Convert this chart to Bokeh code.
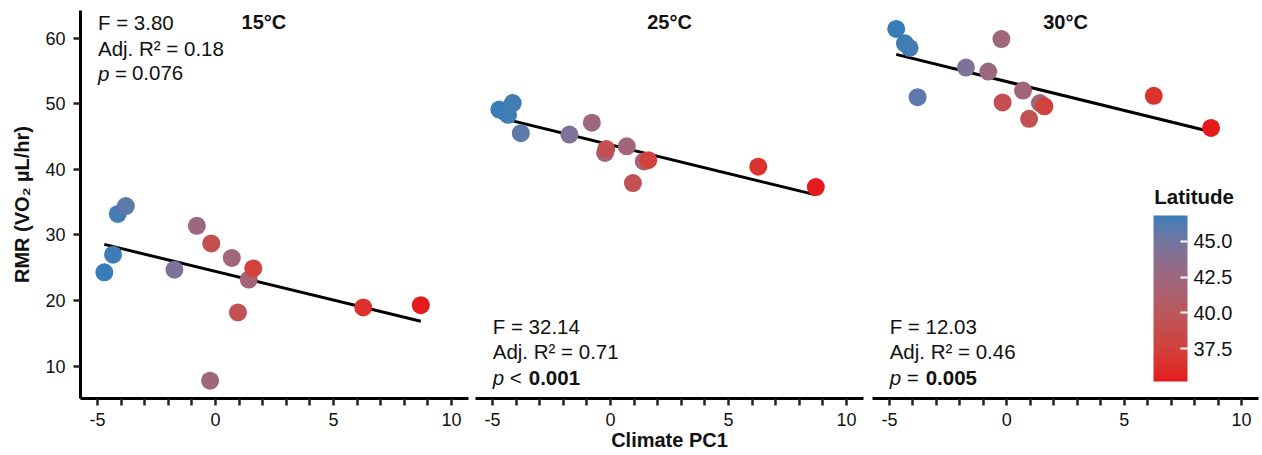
import numpy as np
from bokeh.plotting import figure
from bokeh.layouts import row
from bokeh.models import (Range1d, FixedTicker, Label, ColorBar, LinearColorMapper,
                          PrintfTickFormatter, ColumnDataSource)
from bokeh.embed import file_html
from bokeh.resources import INLINE

# ---------------- data ----------------
climate_pc1 = [-4.71, -4.34, -4.14, -3.80, -1.74, -0.79, -0.23, -0.18, 0.69, 1.41, 1.60, 0.95, 6.26, 8.70]
latitude = [46.8, 46.6, 46.5, 45.8, 44.4, 42.6, 42.4, 39.0, 42.2, 41.9, 37.6, 39.2, 36.4, 35.2]
rmr_15 = [24.3, 27.0, 33.2, 34.4, 24.7, 31.4, 7.8, 28.7, 26.5, 23.2, 24.9, 18.2, 18.95, 19.3]
rmr_25 = [49.1, 48.3, 50.1, 45.5, 45.3, 47.1, 42.5, 43.1, 43.5, 41.2, 41.4, 37.9, 40.4, 37.3]
rmr_30 = [61.4, 59.2, 58.5, 51.0, 55.5, 54.9, 59.85, 50.2, 52.0, 50.1, 49.6, 47.7, 51.2, 46.3]

panel_titles = ["15°C", "25°C", "30°C"]
stat_F = ["F = 3.80", "F = 32.14", "F = 12.03"]
stat_R2 = ["Adj. R² = 0.18", "Adj. R² = 0.71", "Adj. R² = 0.46"]
stat_p_op = ["=", "<", "="]
stat_p_val = ["0.076", "0.001", "0.005"]
stat_p_bold = [False, True, True]

x_ticks = list(range(-5, 11))
x_tick_labels = {t: (str(t) if t % 5 == 0 else "") for t in x_ticks}
y_ticks = [10, 20, 30, 40, 50, 60]
lat_ticks = [37.5, 40.0, 42.5, 45.0]
lat_low, lat_high = 35.2, 46.8
low_color, high_color = "#E41A1C", "#377EB8"

# ---------------- colour ramp (CIELAB interpolation, like ggplot) ----------------
_M = np.array([[0.4124, 0.3576, 0.1805], [0.2126, 0.7152, 0.0722], [0.0193, 0.1192, 0.9505]])
_W = np.array([0.95047, 1.0, 1.08883])


def hex_to_lab(h):
    c = np.array([int(h[i:i + 2], 16) for i in (1, 3, 5)]) / 255.0
    c = np.where(c <= 0.04045, c / 12.92, ((c + 0.055) / 1.055) ** 2.4)
    xyz = _M @ c / _W
    d = 6 / 29
    f = np.where(xyz > d ** 3, np.cbrt(xyz), xyz / (3 * d * d) + 4 / 29)
    return np.array([116 * f[1] - 16, 500 * (f[0] - f[1]), 200 * (f[1] - f[2])])


def lab_to_hex(lab):
    L, a, b = lab
    fy = (L + 16) / 116
    fx = fy + a / 500
    fz = fy - b / 200
    d = 6 / 29
    f = np.array([fx, fy, fz])
    xyz = np.where(f > d, f ** 3, 3 * d * d * (f - 4 / 29)) * _W
    rgb = np.linalg.solve(_M, xyz)
    rgb = np.where(rgb <= 0.0031308, 12.92 * rgb, 1.055 * np.clip(rgb, 0, None) ** (1 / 2.4) - 0.055)
    rgb = np.clip(np.round(rgb * 255), 0, 255).astype(int)
    return "#%02x%02x%02x" % tuple(rgb)


lab_lo, lab_hi = hex_to_lab(low_color), hex_to_lab(high_color)
palette = [lab_to_hex(lab_lo + (lab_hi - lab_lo) * t) for t in np.linspace(0, 1, 256)]
mapper = LinearColorMapper(palette=palette, low=lat_low, high=lat_high)

FONT = "Liberation Sans"
y_range = Range1d(5.08, 64.2)

widths = [471, 397, 394]
borders_left = [80, 4, 4]
borders_right = [3, 5, 4]
series = [rmr_15, rmr_25, rmr_30]
title_x = [2.05, 2.5, 2.5]

figs = []
for i in range(3):
    p = figure(width=widths[i], height=455, output_backend="svg", toolbar_location=None,
               x_range=Range1d(-5.72, 10.72), y_range=y_range,
               y_axis_location="left" if i == 0 else None,
               min_border_left=borders_left[i], min_border_right=borders_right[i],
               min_border_top=10, min_border_bottom=57)
    p.outline_line_color = None
    p.xgrid.visible = False
    p.ygrid.visible = False
    p.background_fill_color = "white"
    p.border_fill_color = "white"

    xa = p.xaxis[0]
    xa.ticker = FixedTicker(ticks=x_ticks)
    xa.major_label_overrides = x_tick_labels
    xa.minor_tick_line_color = None
    xa.axis_line_width = 3
    xa.axis_line_color = "black"
    xa.major_tick_line_width = 2.5
    xa.major_tick_line_color = "#222222"
    xa.major_tick_in = 0
    xa.major_tick_out = 7
    xa.major_label_standoff = 7
    xa.major_label_text_font = FONT
    xa.major_label_text_font_size = "18px"
    xa.major_label_text_color = "#111111"
    if i == 1:
        xa.axis_label = "Climate PC1"
        xa.axis_label_text_font = FONT
        xa.axis_label_text_font_size = "20px"
        xa.axis_label_text_font_style = "bold"
        xa.axis_label_text_color = "#111111"
        xa.axis_label_standoff = 0

    if i == 0:
        ya = p.yaxis[0]
        ya.ticker = FixedTicker(ticks=y_ticks)
        ya.minor_tick_line_color = None
        ya.axis_line_width = 3
        ya.axis_line_color = "black"
        ya.major_tick_line_width = 2.5
        ya.major_tick_line_color = "#222222"
        ya.major_tick_in = 0
        ya.major_tick_out = 7
        ya.major_label_standoff = 8
        ya.major_label_text_font = FONT
        ya.major_label_text_font_size = "18px"
        ya.major_label_text_color = "#111111"
        ya.axis_label = "RMR (VO₂ µL/hr)"
        ya.axis_label_text_font = FONT
        ya.axis_label_text_font_size = "20px"
        ya.axis_label_text_font_style = "bold"
        ya.axis_label_text_color = "#111111"
        ya.axis_label_standoff = 9

    # regression line from the data
    x = np.array(climate_pc1)
    y = np.array(series[i])
    slope, intercept = np.polyfit(x, y, 1)
    xl = np.array([x.min(), x.max()])
    p.line(xl, intercept + slope * xl, line_width=3, line_color="black")

    src = ColumnDataSource(dict(x=climate_pc1, y=series[i], lat=latitude))
    p.scatter("x", "y", source=src, size=18, marker="circle",
              fill_color={"field": "lat", "transform": mapper}, line_color=None)

    # panel title
    p.add_layout(Label(x=title_x[i], y=62.4, text=panel_titles[i], text_font=FONT,
                       text_font_size="20px", text_font_style="bold", text_align="center",
                       text_baseline="alphabetic", text_color="#111111"))

    # statistics
    if i == 0:
        sx, ys = -4.98, [62.4, 58.43, 54.62]
    else:
        sx, ys = -4.99, [16.0, 12.2, 8.27]
    common = dict(text_font=FONT, text_font_size="20.5px", text_baseline="alphabetic",
                  text_align="left", text_color="#111111")
    p.add_layout(Label(x=sx, y=ys[0], text=stat_F[i], **common))
    p.add_layout(Label(x=sx, y=ys[1], text=stat_R2[i], **common))
    p.add_layout(Label(x=sx, y=ys[2], text="p", text_font_style="italic", **common))
    p.add_layout(Label(x=sx, y=ys[2], x_offset=17, text=stat_p_op[i], **common))
    p.add_layout(Label(x=sx, y=ys[2], x_offset=36 if i else 34, text=stat_p_val[i],
                       text_font_style="bold" if stat_p_bold[i] else "normal", **common))
    figs.append(p)

# colour bar legend (title drawn as a label above the bar)
cb = ColorBar(color_mapper=mapper, location=(281, 17), width=34, height=166, padding=0,
              ticker=FixedTicker(ticks=lat_ticks), formatter=PrintfTickFormatter(format="%.1f"),
              major_label_text_font=FONT, major_label_text_font_size="20px",
              major_label_text_color="#111111", label_standoff=6,
              major_tick_line_color="white", major_tick_line_width=2, major_tick_in=7,
              major_tick_out=0, minor_tick_line_color=None, bar_line_color=None,
              border_line_color=None, background_fill_alpha=0)
figs[2].add_layout(cb, "center")
figs[2].add_layout(Label(x=6.28, y=35.9, text="Latitude", text_font=FONT, text_font_size="20.5px",
                         text_font_style="bold", text_align="left", text_baseline="alphabetic",
                         text_color="#111111"))

layout = row(*figs, spacing=0)
open("out.html", "w").write(file_html(layout, INLINE))
